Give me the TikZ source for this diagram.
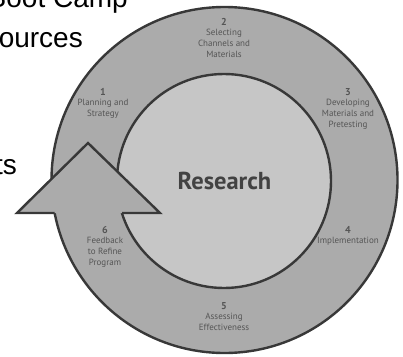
\documentclass[tikz,border=0pt]{standalone}
\usepackage{fontspec}
\setmainfont{Liberation Sans}
\newfontfamily\lblfont{PT Sans}
\definecolor{ringgray}{HTML}{ABABAB}
\definecolor{innergray}{HTML}{C6C6C6}
\definecolor{edgegray}{HTML}{383838}
\definecolor{lblgray}{HTML}{555555}
\newcommand{\numtxt}[1]{{\fontsize{10}{11}\selectfont\textbf{#1}}}
\begin{document}
\begin{tikzpicture}[x=1pt,y=-1pt,
  edge/.style={draw=edgegray,line width=2.4pt},
  lbl/.style={font=\lblfont\fontsize{9}{10.6}\selectfont,text=lblgray,align=center,inner sep=0pt},
  slidetxt/.style={font=\fontsize{28}{32}\selectfont,anchor=base east,inner sep=0pt}]
\useasboundingbox (0,0) rectangle (403,356);
\clip (0,0) rectangle (403,356);
\fill[white] (0,0) rectangle (403,356);
% slide text
\node[slidetxt] (t1) at (128,7) {Boot Camp};
\node[slidetxt] (t2) at (83,47) {ources};
\node[slidetxt] (t3) at (17,174) {ts};
% ring
\node[circle,edge,fill=ringgray,minimum size=346pt,inner sep=0pt] (outer) at (224.5,180) {};
\node[circle,edge,fill=innergray,minimum size=214pt,inner sep=0pt] (inner) at (224,181) {};
% arrowhead
\coordinate (bl) at (17,213);
\coordinate (tip) at (88,143);
\coordinate (br) at (160,213);
\coordinate (so) at (54.5,213);
\coordinate (si) at (122,213);
\fill[ringgray] (bl) -- (tip) -- (br) -- cycle;
\draw[draw=edgegray,line width=2.4pt,line join=miter] (so) -- (bl) -- (tip) -- (br) -- (si);
% center
\node[font=\lblfont\bfseries\fontsize{24.5}{28}\selectfont,text=edgegray!95!white,anchor=base,inner sep=0pt] (res) at (224.5,189) {Research};
% labels
\node[lbl,anchor=north] (l1) at (103,88) {\numtxt{1}\\Planning and\\Strategy};
\node[lbl,anchor=north] (l2) at (224,18) {\numtxt{2}\\Selecting\\Channels and\\Materials};
\node[lbl,anchor=north] (l3) at (348,88) {\numtxt{3}\\Developing\\Materials and\\Pretesting};
\node[lbl,anchor=north] (l4) at (348,226) {\numtxt{4}\\Implementation};
\node[lbl,anchor=north] (l5) at (224,302) {\numtxt{5}\\Assessing\\Effectiveness};
\node[lbl,anchor=north] (l6) at (105,226) {\numtxt{6}\\Feedback\\to Refine\\Program};
\end{tikzpicture}
\end{document}
